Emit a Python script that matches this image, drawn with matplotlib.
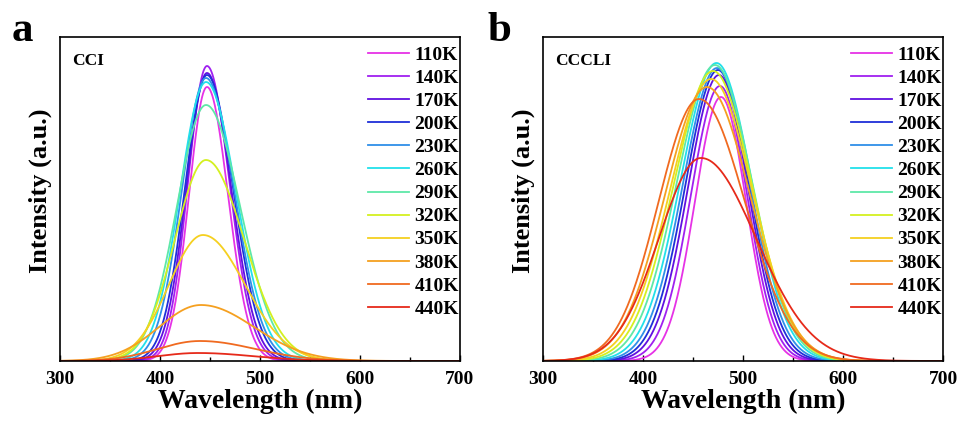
import numpy as np
import matplotlib
matplotlib.use("Agg")
import matplotlib.pyplot as plt
from matplotlib.ticker import MultipleLocator

plt.rcParams['font.family'] = ['Liberation Serif', 'DejaVu Serif']
plt.rcParams['font.weight'] = 'bold'

temps = ["110K", "140K", "170K", "200K", "230K", "260K",
         "290K", "320K", "350K", "380K", "410K", "440K"]
colors = ["#e632e6", "#a020f0", "#6010e0", "#1f2fd8", "#2f8fe8", "#22e0ea",
          "#5ee8a8", "#d4f020", "#f5d020", "#f5a020", "#f06a20", "#e62a1a"]

# Panel a (CCI): peak wavelength (nm), peak height (a.u.), left/right width (nm)
a_peak = [447, 447, 447, 447, 446, 446, 446, 446, 443, 441, 440, 438]
a_height = [274, 295, 288, 286, 283, 279, 256, 201, 126, 56, 20, 8]
a_wl = [18, 19, 20.5, 22, 24, 26, 29, 31, 34, 42, 42, 40]
a_wr = [21, 22.5, 24, 26, 28, 30, 34, 38, 42, 53, 55, 55]

# Panel b (CCCLI)
b_peak = [478, 477, 476, 475, 474, 473.5, 472, 470, 468, 464, 456, 458]
b_height = [264, 275, 286, 291, 293, 298, 296, 290, 282, 274, 262, 203]
b_wl = [26, 29, 31, 32.5, 34, 36, 38, 39.5, 41, 42, 40.5, 42]
b_wr = [25, 27, 29, 31, 33, 35, 37, 39, 41, 43, 46, 55]

wavelength = np.linspace(300, 700, 801)


def spectrum(peak, height, wl, wr):
    d = wavelength - peak
    s = np.where(d < 0, wl, wr)
    return height * np.exp(-d ** 2 / (2 * s ** 2))


fig = plt.figure(figsize=(9.6, 4.21), dpi=100)
axes = [fig.add_axes([60 / 960, 60 / 421, 400 / 960, 324 / 421]),
        fig.add_axes([543 / 960, 60 / 421, 400 / 960, 324 / 421])]

panels = [(a_peak, a_height, a_wl, a_wr, "CCI", "a", 12 / 960),
          (b_peak, b_height, b_wl, b_wr, "CCCLI", "b", 487 / 960)]

for ax, (pk, ht, wl, wr, name, letter, lx) in zip(axes, panels):
    for i in range(len(temps)):
        ax.plot(wavelength, spectrum(pk[i], ht[i], wl[i], wr[i]),
                color=colors[i], lw=1.3, label=temps[i])
    ax.set_xlim(300, 700)
    ax.set_ylim(0, 324)
    ax.set_yticks([])
    ax.xaxis.set_major_locator(MultipleLocator(100))
    ax.xaxis.set_minor_locator(MultipleLocator(50))
    ax.tick_params(axis='x', which='both', direction='in', labelsize=14,
                   width=1.0, pad=7)
    ax.tick_params(axis='x', which='major', length=4)
    ax.tick_params(axis='x', which='minor', length=3)
    for lab in ax.get_xticklabels():
        lab.set_fontweight('bold')
    for sp in ax.spines.values():
        sp.set_linewidth(1.2)
    ax.set_xlabel("Wavelength (nm)", fontsize=20, fontweight='bold', labelpad=1)
    ax.set_ylabel("Intensity (a.u.)", fontsize=19, fontweight='bold')
    ax.yaxis.set_label_coords(-0.02, 0.525)
    ax.text(0.03, 0.925, name, transform=ax.transAxes, fontsize=12.5,
            fontweight='bold', va='center', ha='left')
    fig.text(lx, 1 - 41 / 421, letter, fontsize=31, fontweight='bold',
             va='baseline', ha='left')
    ax.legend(loc='upper left', bbox_to_anchor=(0.75, 0.995), frameon=False,
              handlelength=2.1, handletextpad=0.3, labelspacing=0.28,
              borderaxespad=0.0, prop={'weight': 'bold', 'size': 14})

fig.savefig("out.png", dpi=100)
